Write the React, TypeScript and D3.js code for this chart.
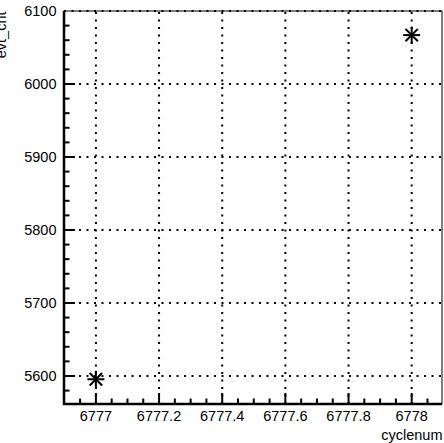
import React, { useEffect, useRef } from "react";
import * as d3 from "d3";

// Data
const cycleNums = [6777.0, 6778.0];
const serCounts = [5595.5, 6067];
const xTicks = [6777, 6777.2, 6777.4, 6777.6, 6777.8, 6778];
const yTicks = [5600, 5700, 5800, 5900, 6000, 6100];
const xTitle = "cyclenum";
const yTitle = "evt_cnt";

const App: React.FC = () => {
  const ref = useRef<SVGSVGElement | null>(null);

  useEffect(() => {
    const svg = d3.select(ref.current);
    svg.selectAll("*").remove();

    const width = 444,
      height = 443;
    const frame = { left: 64, right: 442, top: 11, bottom: 404 };
    const font = "'Liberation Sans', Arial, Helvetica, sans-serif";
    const fs = "14.5px";

    const x = d3
      .scaleLinear()
      .domain([6776.899, 6778.096])
      .range([frame.left, frame.right]);
    const y = d3
      .scaleLinear()
      .domain([5561.6, 6100])
      .range([frame.bottom, frame.top]);

    svg.attr("width", width).attr("height", height);
    svg.append("rect").attr("width", width).attr("height", height).attr("fill", "#fff");

    // Frame (thin top/right)
    svg
      .append("rect")
      .attr("x", frame.left)
      .attr("y", frame.top)
      .attr("width", frame.right - frame.left)
      .attr("height", frame.bottom - frame.top)
      .attr("fill", "none")
      .attr("stroke", "#000")
      .attr("stroke-width", 1);

    // Grid
    const grid = svg.append("g").attr("stroke", "#000").attr("stroke-width", 2).attr("stroke-dasharray", "2,5.5");
    grid
      .selectAll("line.v")
      .data(xTicks)
      .enter()
      .append("line")
      .attr("x1", (d) => x(d))
      .attr("x2", (d) => x(d))
      .attr("y1", frame.bottom)
      .attr("y2", frame.top);
    grid
      .selectAll("line.h")
      .data(yTicks)
      .enter()
      .append("line")
      .attr("y1", (d) => y(d))
      .attr("y2", (d) => y(d))
      .attr("x1", frame.left)
      .attr("x2", frame.right);

    // Minor ticks
    const xMinor = d3.range(6776.9, 6778.1, 0.05).filter((v) => x(v) > frame.left + 1 && x(v) < frame.right - 1);
    const yMinor = d3.range(5580, 6100, 20);
    const ticks = svg.append("g").attr("stroke", "#000").attr("stroke-width", 2);
    ticks
      .selectAll("line.xm")
      .data(xMinor)
      .enter()
      .append("line")
      .attr("x1", (d) => x(d))
      .attr("x2", (d) => x(d))
      .attr("y1", frame.bottom)
      .attr("y2", (d) => {
        const major = xTicks.some((t) => Math.abs(t - d) < 1e-6);
        return frame.bottom - (major ? 11 : 5.5);
      });
    ticks
      .selectAll("line.ym")
      .data(yMinor)
      .enter()
      .append("line")
      .attr("y1", (d) => y(d))
      .attr("y2", (d) => y(d))
      .attr("x1", frame.left)
      .attr("x2", (d) => frame.left + (d % 100 === 0 ? 11 : 5.5));

    // Axes lines (thick)
    svg
      .append("line")
      .attr("x1", frame.left)
      .attr("x2", frame.left)
      .attr("y1", frame.top)
      .attr("y2", frame.bottom + 1)
      .attr("stroke", "#000")
      .attr("stroke-width", 2.5);
    svg
      .append("line")
      .attr("x1", frame.left - 1)
      .attr("x2", frame.right)
      .attr("y1", frame.bottom)
      .attr("y2", frame.bottom)
      .attr("stroke", "#000")
      .attr("stroke-width", 2.5);

    // Tick labels
    svg
      .append("g")
      .selectAll("text")
      .data(xTicks)
      .enter()
      .append("text")
      .attr("x", (d) => x(d))
      .attr("y", 421.2)
      .attr("text-anchor", "middle")
      .attr("font-family", font)
      .style("font-size", fs)
      .text((d) => String(d));
    svg
      .append("g")
      .selectAll("text")
      .data(yTicks)
      .enter()
      .append("text")
      .attr("x", 56.5)
      .attr("y", (d) => y(d) + 5.2)
      .attr("text-anchor", "end")
      .attr("font-family", font)
      .style("font-size", fs)
      .text((d) => String(d));

    // Titles
    svg
      .append("text")
      .attr("x", 442.5)
      .attr("y", 439.5)
      .attr("text-anchor", "end")
      .attr("font-family", font)
      .style("font-size", fs)
      .text(xTitle);
    svg
      .append("text")
      .attr("transform", "translate(6,11.5) rotate(-90)")
      .attr("text-anchor", "end")
      .attr("font-family", font)
      .style("font-size", fs)
      .text(yTitle);

    // Asterisk markers
    const pts = cycleNums.map((c, i) => ({ c, v: serCounts[i] }));
    const r = 8.5,
      dg = 6.2;
    const mk = svg
      .append("g")
      .selectAll("g")
      .data(pts)
      .enter()
      .append("g")
      .attr("transform", (d) => `translate(${x(d.c)},${y(d.v)})`)
      .attr("stroke", "#000")
      .attr("stroke-width", 2);
    mk.append("line").attr("x1", -r).attr("x2", r).attr("y1", 0).attr("y2", 0);
    mk.append("line").attr("x1", 0).attr("x2", 0).attr("y1", -r).attr("y2", r);
    mk.append("line").attr("x1", -dg).attr("x2", dg).attr("y1", -dg).attr("y2", dg);
    mk.append("line").attr("x1", -dg).attr("x2", dg).attr("y1", dg).attr("y2", -dg);
  }, []);

  return <svg ref={ref} style={{ position: "absolute", left: 0, top: 0 }} />;
};

export default App;
